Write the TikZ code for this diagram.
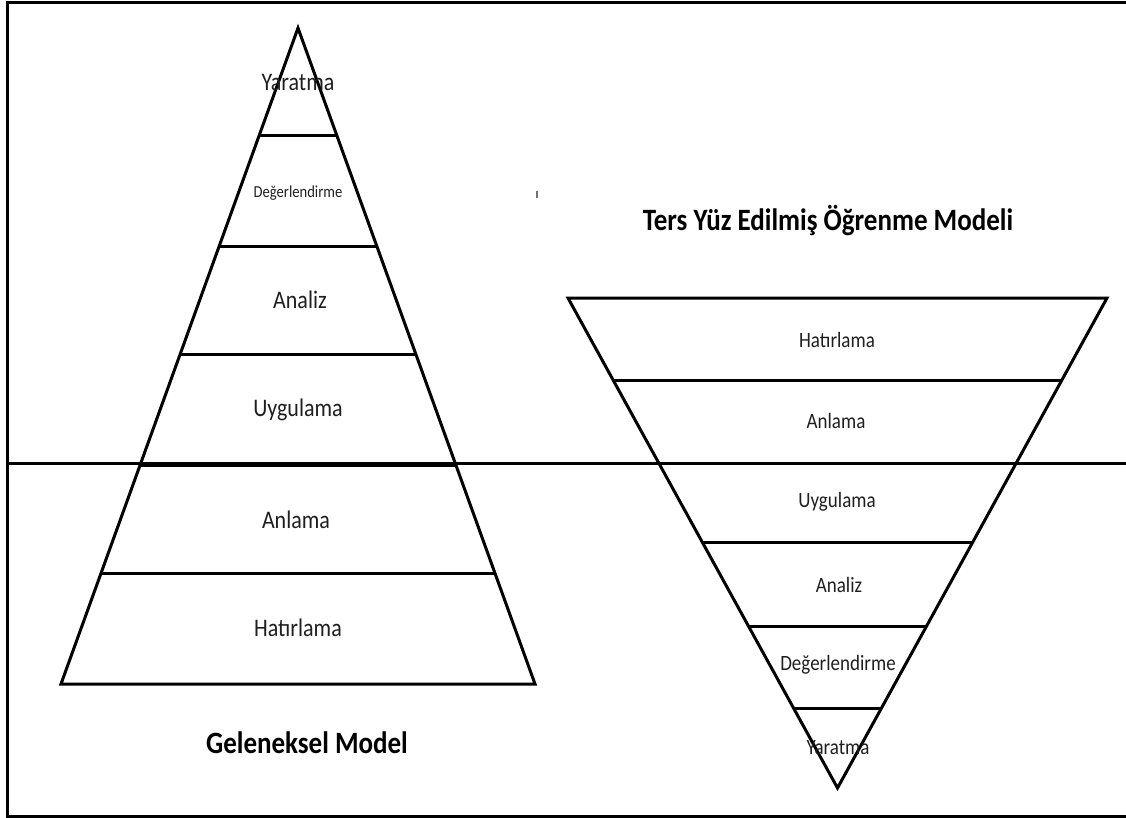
\documentclass[tikz,border=0pt]{standalone}
\usepackage{fontspec}
\setmainfont{Carlito}
\usepackage{graphicx}
\newcommand{\talltext}[1]{\scalebox{1}[1.15]{#1}}
\begin{document}
\begin{tikzpicture}[x=1pt,y=-1pt,
  edge/.style={line width=3pt,line join=miter,black},
  tier/.style={line width=3pt,black},
  lbl/.style={inner sep=0pt,text=black!88,font=\fontsize{22}{24}\selectfont},
  lblsmall/.style={lbl,font=\fontsize{14.6}{16}\selectfont},
  rlbl/.style={lbl,font=\fontsize{19}{21}\selectfont},
  caption/.style={inner sep=0pt,text=black,font=\fontsize{27}{30}\selectfont\bfseries}]
\useasboundingbox (0,0) rectangle (1126,818);

% outer frame, open on the right
\draw[line width=3pt] (1135,2.5) -- (7.5,2.5) -- (7.5,816) -- (1135,816);
% separator line across the page
\coordinate (sepL) at (7.5,463);
\coordinate (sepR) at (1135,463);
\draw[line width=3pt] (sepL) -- (sepR);

% ---------- traditional pyramid ----------
\coordinate (tA) at (298,28);
\coordinate (tBL) at (61,684);
\coordinate (tBR) at (535,684);
\draw[edge] (tA) -- (tBL) -- (tBR) -- cycle;
\draw[tier] (259.0,136) -- (337.0,136);
\draw[tier] (218.9,247) -- (377.1,247);
\draw[tier] (180.2,354) -- (415.8,354);
\draw[tier] (140.1,465) -- (455.9,465);
\draw[tier] (101.1,573) -- (494.9,573);

\node[lbl] (t1) at (298,82) {\talltext{Yaratma}};
\node[lblsmall] (t2) at (298,193) {\talltext{Değerlendirme}};
\node[lbl] (t3) at (300,300) {\talltext{Analiz}};
\node[lbl] (t4) at (298,410) {\talltext{Uygulama}};
\node[lbl] (t5) at (296,520) {\talltext{Anlama}};
\node[lbl] (t6) at (298,628) {\talltext{Hatırlama}};
\node[caption] (tcap) at (307,743) {\talltext{Geleneksel Model}};

% ---------- flipped pyramid ----------
\coordinate (fTL) at (568,298);
\coordinate (fTR) at (1107,298);
\coordinate (fA) at (837.5,788);
\draw[edge] (fTL) -- (fTR) -- (fA) -- cycle;
\draw[tier] (613.1,380) -- (1061.9,380);
\draw[tier] (658.75,463) -- (1016.25,463);
\draw[tier] (702.2,542) -- (972.8,542);
\draw[tier] (748.4,626) -- (926.6,626);
\draw[tier] (793.5,708) -- (881.5,708);

\node[rlbl] (f1) at (837,340) {\talltext{Hatırlama}};
\node[rlbl] (f2) at (836,421) {\talltext{Anlama}};
\node[rlbl] (f3) at (837,502) {\talltext{Uygulama}};
\node[rlbl] (f4) at (839,585) {\talltext{Analiz}};
\node[rlbl] (f5) at (838,665) {\talltext{Değerlendirme}};
\node[rlbl] (f6) at (838,748) {\talltext{Yaratma}};
\node[caption] (fcap) at (828,220) {\talltext{Ters Yüz Edilmiş Öğrenme Modeli}};

% small stray mark
\draw[line width=1.2pt,black!55] (537,191) -- (537,198);
\end{tikzpicture}
\end{document}
